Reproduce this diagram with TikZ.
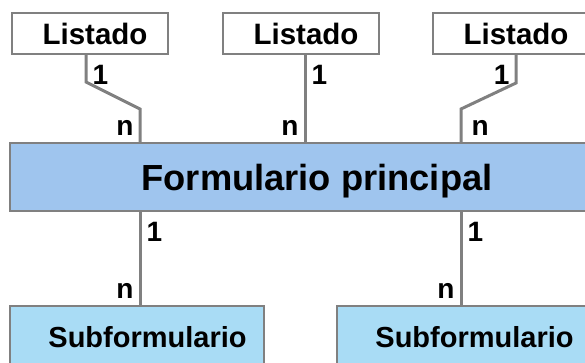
\documentclass[tikz,border=0pt]{standalone}
\usepackage{fontspec}
\setmainfont{Liberation Sans}
\usetikzlibrary{positioning}
\definecolor{edgegray}{HTML}{808080}
\definecolor{mainblue}{HTML}{9FC5EE}
\definecolor{subblue}{HTML}{A9DCF5}

\begin{document}
\begin{tikzpicture}[
    x=1pt, y=-1pt,
    box/.style={draw=edgegray, line width=2pt, inner sep=0pt,
      execute at begin node=\hspace*{10pt}},
    listbox/.style={box, fill=white, minimum width=156, minimum height=41,
      font=\fontsize{29.5}{32}\selectfont\bfseries},
    mainbox/.style={box, fill=mainblue, minimum width=604, minimum height=68,
      text depth=0pt, font=\fontsize{36.3}{40}\selectfont\bfseries},
    subbox/.style={box, fill=subblue, minimum width=254, minimum height=62,
      execute at begin node=\hspace*{11pt},
      font=\fontsize{29}{32}\selectfont\bfseries},
    link/.style={draw=edgegray, line width=3pt},
    card/.style={inner sep=5pt, font=\fontsize{28}{30}\selectfont\bfseries}
  ]
  \path[use as bounding box, clip] (0,0) rectangle (585,363);

  \node[listbox] (lst1) at (90,33.5) {Listado};
  \node[listbox] (lst2) at (301,33.5) {Listado};
  \node[listbox] (lst3) at (511,33.5) {Listado};
  \node[mainbox] (main) at (312,177) {Formulario principal};
  \node[subbox] (sub1) at (137,337) {Subformulario};
  \node[subbox] (sub2) at (464,337) {Subformulario};

  % columns of the connectors
  \coordinate (colA) at (86,0);
  \coordinate (colL) at (140,0);
  \coordinate (colM) at (305,0);
  \coordinate (colR) at (461,0);
  \coordinate (colB) at (516,0);

  \draw[link] (lst1.south -| colA) node[card, anchor=north west, yshift=-4pt] {1}
    -- ++(0,27) -- ++(54,27) -- (main.north -| colL)
    node[card, anchor=south east] {n};
  \draw[link] (lst2.south -| colM) node[card, anchor=north west, yshift=-4pt] {1}
    -- (main.north -| colM) node[card, anchor=south east] {n};
  \draw[link] (lst3.south -| colB) node[card, anchor=north east, yshift=-4pt] {1}
    -- ++(0,28) -- ++(-55,26) -- (main.north -| colR)
    node[card, anchor=south west, xshift=4pt] {n};

  \foreach \a in {L,R}
    \draw[link] (main.south -| col\a) node[card, anchor=north west, yshift=-4pt] {1}
      -- (sub1.north -| col\a) node[card, anchor=south east] {n};
\end{tikzpicture}
\end{document}
